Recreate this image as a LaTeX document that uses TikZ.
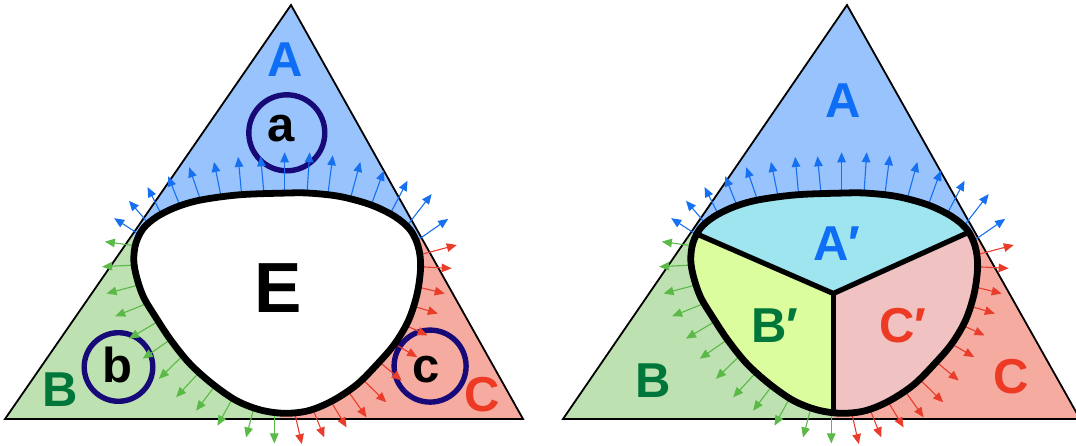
\documentclass[tikz,border=0pt]{standalone}
\usepackage{fontspec}
\setmainfont{Liberation Sans}
\usetikzlibrary{arrows.meta}
\definecolor{fillA}{HTML}{98C3FD}
\definecolor{fillB}{HTML}{BDE1B1}
\definecolor{fillC}{HTML}{F6ABA1}
\definecolor{fillAp}{HTML}{9EE5F0}
\definecolor{fillBp}{HTML}{DCFD9D}
\definecolor{fillCp}{HTML}{F1C2C2}
\definecolor{txtA}{HTML}{0E6EF5}
\definecolor{txtB}{HTML}{00773A}
\definecolor{txtC}{HTML}{EC3A25}
\definecolor{arrA}{HTML}{1670F0}
\definecolor{arrB}{HTML}{5BB947}
\definecolor{arrC}{HTML}{EA3C2A}
\definecolor{ring}{HTML}{170A78}
\tikzset{
  triline/.style={draw=black, line width=1.8pt, line join=miter},
  flux/.style={line width=1.1pt, shorten <=-10pt, -{Triangle[length=10pt,width=8.5pt]}},
  ringstyle/.style={draw=ring, line width=5.4pt},
  lab/.style={inner sep=0pt, anchor=center, font=\fontsize{49}{49}\selectfont\bfseries},
  biglab/.style={inner sep=0pt, anchor=center, font=\fontsize{71}{71}\selectfont\bfseries},
  outline/.style={draw=black, line width=6.8pt},
  divider/.style={draw=black, line width=5.2pt}
}
\newcommand{\blobpath}[1]{\path[#1] plot[smooth cycle, tension=0.55] coordinates {(830,580) (700,585) (590,600) (520,620) (460,650) (420,685) (398,730) (392,780) (400,830) (420,890) (455,950) (500,1020) (555,1090) (620,1150) (690,1200) (760,1228) (830,1238) (900,1230) (970,1200) (1040,1152) (1100,1090) (1150,1030) (1190,960) (1215,880) (1225,800) (1218,740) (1195,690) (1150,650) (1080,615) (990,590) (900,580)};}
\newcommand{\fluxarrows}{%
  \foreach \bx/\by/\tx/\ty in {410/705/335/655, 430/665/378/603, 470/640/432/562, 525/615/492/530, 585/598/553/503, 645/588/625/487, 705/582/695/472, 770/580/760/470, 830/578/830/458, 895/580/903/458, 955/590/970/467, 1020/600/1050/487, 1080/620/1118/513, 1135/645/1187/543, 1180/685/1257/583, 1210/725/1305/657}
    {\draw[flux, arrA] (\bx,\by) -- (\tx,\ty);}
  \foreach \bx/\by/\tx/\ty in {400/738/308/725, 395/795/300/800, 405/855/313/880, 430/910/338/948, 460/965/378/1015, 495/1020/418/1075, 530/1070/465/1135, 578/1120/515/1190, 625/1160/573/1230, 678/1195/635/1275, 740/1225/718/1310, 800/1240/800/1328}
    {\draw[flux, arrB] (\bx,\by) -- (\tx,\ty);}
  \foreach \bx/\by/\tx/\ty in {860/1240/880/1330, 910/1220/945/1310, 960/1195/1010/1280, 1010/1165/1068/1250, 1050/1130/1125/1205, 1100/1080/1170/1140, 1140/1025/1215/1070, 1170/970/1245/1005, 1195/915/1275/940, 1215/860/1295/880, 1220/800/1315/805, 1220/765/1330/735}
    {\draw[flux, arrC] (\bx,\by) -- (\tx,\ty);}
}
\begin{document}
\begin{tikzpicture}[x=1pt,y=-1pt]
\useasboundingbox (0,0) rectangle (1076,445);
\clip (0,0) rectangle (1076,445);
% ---------- left triangle ----------
\begin{scope}
  \clip (5,419) -- (291,5) -- (523,419) -- cycle;
  \fill[fillA] (280,300) -- (-15.8,170) -- (-15.8,-10) -- (600,-10) -- (563.2,176) -- cycle;
  \fill[fillB] (280,300) -- (-15.8,170) -- (-15.8,440) -- (279.5,440) -- cycle;
  \fill[fillC] (280,300) -- (563.2,176) -- (600,440) -- (279.5,440) -- cycle;
\end{scope}
\draw[triline] (5,419) -- (291,5) -- (523,419) -- cycle;
\draw[ringstyle] (286.8,132.8) circle (38);
\draw[ringstyle] (118.5,367) circle (34.3);
\draw[ringstyle] (430.1,366.1) circle (36);
\begin{scope}[shift={(-1.198,-1.024)}, xscale=0.34435, yscale=0.33467]
  \fluxarrows
  \blobpath{fill=white}
  \blobpath{outline}
\end{scope}
\node[lab, txtA] (labA) at (285,60) {A};
\node[lab] (laba) at (281,128.7) {a};
\node[biglab] (labE) at (278,288) {E};
\node[lab] (labb) at (117.6,364.7) {b};
\node[lab, txtB] (labB) at (60,389.7) {B};
\node[lab] (labc) at (426.5,369.5) {c};
\node[lab, txtC] (labC) at (482.6,394.6) {C};
% ---------- right triangle ----------
\begin{scope}
  \clip (563,419) -- (847,5) -- (1080,419) -- cycle;
  \fill[fillA] (834,300) -- (546.4,166) -- (546.4,-10) -- (1150,-10) -- (1114.4,164) -- cycle;
  \fill[fillB] (834,300) -- (546.4,166) -- (546.4,440) -- (834,440) -- cycle;
  \fill[fillC] (834,300) -- (1114.4,164) -- (1150,440) -- (834,440) -- cycle;
\end{scope}
\draw[triline] (563,419) -- (847,5) -- (1080,419) -- cycle;
\begin{scope}[shift={(555.8,-1.024)}, xscale=0.34435, yscale=0.33467]
  \fluxarrows
  \blobpath{fill=fillAp}
  \begin{scope}
    \blobpath{clip}
    \fill[fillBp] (806,880) -- (300,653) -- (300,1300) -- (806,1300) -- cycle;
    \fill[fillCp] (806,880) -- (1300,650) -- (1300,1300) -- (806,1300) -- cycle;
    \draw[divider] (300,653) -- (806,880) -- (1300,650);
    \draw[divider] (806,880) -- (806,1300);
  \end{scope}
  \blobpath{outline}
\end{scope}
\node[lab, txtA] (labA2) at (843.6,101) {A};
\node[lab, txtA] (labAp) at (837,244) {A′};
\node[lab, txtB] (labBp) at (774.6,326) {B′};
\node[lab, txtC] (labCp) at (903,326) {C′};
\node[lab, txtB] (labB2) at (653,380.5) {B};
\node[lab, txtC] (labC2) at (1011,377) {C};
\end{tikzpicture}
\end{document}
